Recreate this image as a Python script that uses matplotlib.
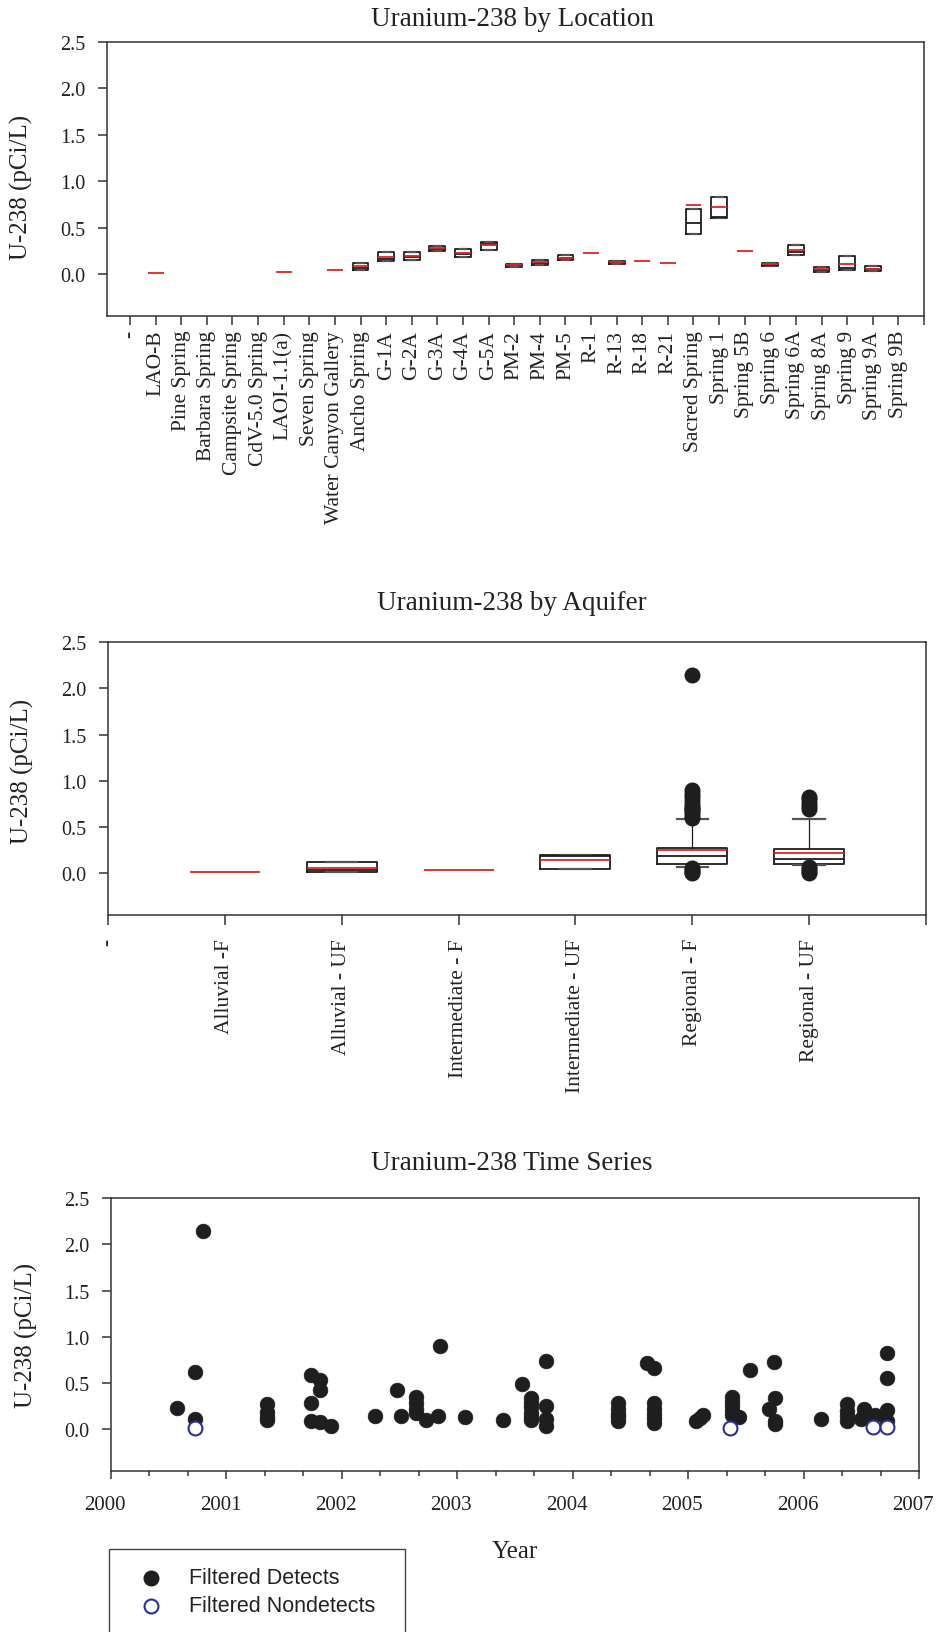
import numpy as np
import matplotlib
matplotlib.use("Agg")
import matplotlib.pyplot as plt
import matplotlib.transforms as mtransforms
from matplotlib.lines import Line2D
from matplotlib.patches import Rectangle

plt.rcParams["font.family"] = ["Liberation Serif", "DejaVu Serif"]

W, H = 938, 1633
RED = "#e3231f"
INK = "#1e1e1e"
BLUE = "#2a2f9c"
AX = "#333333"

# ---------------------------------------------------------------- data
# panel 1: U-238 by location (index into loc_names)
loc_names = ["-", "LAO-B", "Pine Spring", "Barbara Spring", "Campsite Spring",
             "CdV-5.0 Spring", "LAOI-1.1(a)", "Seven Spring", "Water Canyon Gallery",
             "Ancho Spring", "G-1A", "G-2A", "G-3A", "G-4A", "G-5A", "PM-2", "PM-4",
             "PM-5", "R-1", "R-13", "R-18", "R-21", "Sacred Spring", "Spring 1",
             "Spring 5B", "Spring 6", "Spring 6A", "Spring 8A", "Spring 9",
             "Spring 9A", "Spring 9B"]
# locations with one result: only the red mean line shows
loc_single_idx = [1, 6, 8, 18, 20, 21, 24]
loc_single_val = [0.018, 0.025, 0.046, 0.226, 0.140, 0.118, 0.248]
# locations with a box
loc_box_idx = [9, 10, 11, 12, 13, 14, 15, 16, 17, 19, 22, 23, 25, 26, 27, 28, 29]
loc_q1 = [0.040, 0.137, 0.158, 0.255, 0.190, 0.260, 0.080, 0.104, 0.150, 0.115,
          0.434, 0.610, 0.083, 0.212, 0.020, 0.040, 0.036]
loc_med = [0.070, 0.160, 0.190, 0.270, 0.220, 0.330, 0.095, 0.120, 0.170, 0.130,
           0.546, 0.620, 0.100, 0.234, 0.050, 0.065, 0.060]
loc_q3 = [0.126, 0.234, 0.234, 0.300, 0.270, 0.350, 0.108, 0.150, 0.210, 0.147,
          0.697, 0.826, 0.126, 0.310, 0.079, 0.197, 0.083]
loc_mean = [0.083, 0.180, 0.200, 0.277, 0.230, 0.316, 0.097, 0.129, 0.176, 0.133,
            0.740, 0.725, 0.108, 0.259, 0.054, 0.110, 0.061]

# panel 2: U-238 by aquifer
aq_names = ["-", "Alluvial -F", "Alluvial - UF", "Intermediate - F",
            "Intermediate - UF", "Regional - F", "Regional - UF", ""]
aq_single_idx = [1, 3]
aq_single_val = [0.020, 0.035]
aq_box_idx = [2, 4, 5, 6]
aq_q1 = [0.011, 0.050, 0.097, 0.103]
aq_med = [0.035, 0.185, 0.186, 0.150]
aq_q3 = [0.118, 0.194, 0.269, 0.258]
aq_mean = [0.055, 0.143, 0.250, 0.215]
aq_whislo = [0.011, 0.050, 0.071, 0.090]
aq_whishi = [0.118, 0.194, 0.587, 0.590]
aq_fliers = [[], [],
             [0.00, 0.02, 0.04, 0.06, 0.60, 0.63, 0.66, 0.68, 0.70, 0.72, 0.74,
              0.78, 0.82, 0.86, 0.90, 2.14],
             [0.00, 0.02, 0.05, 0.07, 0.70, 0.73, 0.76, 0.80, 0.82]]

# panel 3: time series
det_year = [2000.57, 2000.80, 2000.73, 2000.73, 2001.35, 2001.35, 2001.35, 2001.35,
            2001.73, 2001.73, 2001.73, 2001.81, 2001.81, 2001.81, 2001.91, 2002.29,
            2002.48, 2002.51, 2002.64, 2002.64, 2002.64, 2002.64, 2002.73, 2002.83,
            2002.85, 2003.07, 2003.40, 2003.56, 2003.64, 2003.64, 2003.64, 2003.64,
            2003.64, 2003.64, 2003.77, 2003.77, 2003.77, 2003.77, 2004.39, 2004.39,
            2004.39, 2004.39, 2004.39, 2004.64, 2004.70, 2004.70, 2004.70, 2004.70,
            2004.70, 2004.70, 2005.07, 2005.13, 2005.10, 2005.38, 2005.38, 2005.38,
            2005.38, 2005.38, 2005.44, 2005.54, 2005.74, 2005.75, 2005.70, 2005.75,
            2005.75, 2006.15, 2006.38, 2006.38, 2006.38, 2006.38, 2006.52, 2006.52,
            2006.50, 2006.62, 2006.72, 2006.72, 2006.72, 2006.72]
det_u = [0.23, 2.14, 0.62, 0.11, 0.27, 0.19, 0.13, 0.10,
         0.59, 0.29, 0.09, 0.53, 0.42, 0.08, 0.04, 0.14,
         0.42, 0.14, 0.35, 0.29, 0.22, 0.18, 0.10, 0.14,
         0.90, 0.13, 0.10, 0.49, 0.34, 0.29, 0.24, 0.18,
         0.13, 0.10, 0.74, 0.25, 0.11, 0.04, 0.28, 0.22,
         0.17, 0.13, 0.09, 0.72, 0.66, 0.28, 0.22, 0.17,
         0.12, 0.07, 0.09, 0.15, 0.12, 0.35, 0.30, 0.25,
         0.20, 0.15, 0.13, 0.64, 0.73, 0.34, 0.22, 0.09,
         0.06, 0.11, 0.27, 0.20, 0.14, 0.09, 0.22, 0.15,
         0.11, 0.16, 0.83, 0.56, 0.21, 0.09]
nd_year = [2000.73, 2005.36, 2006.60, 2006.72]
nd_u = [0.02, 0.01, 0.03, 0.03]

years = list(range(2000, 2008))
yticks = [0.0, 0.5, 1.0, 1.5, 2.0, 2.5]

# ---------------------------------------------------------------- figure
fig = plt.figure(figsize=(W / 100, H / 100), dpi=100)


def px_axes(left, top, right, bottom):
    return fig.add_axes([left / W, 1 - bottom / H, (right - left) / W, (bottom - top) / H])


def style(ax, lab_y):
    for sp in ax.spines.values():
        sp.set_color(AX)
        sp.set_linewidth(1.1)
    ax.set_ylim(-0.45, 2.5)
    ax.set_yticks(yticks)
    ax.set_yticklabels([f"{v:.1f}" for v in yticks])
    ax.tick_params(axis="y", direction="out", length=6.3, width=1.1, pad=9,
                   labelsize=14.5, color=AX, labelcolor="#222222")
    ax.set_ylabel("U-238 (pCi/L)", fontsize=18, color="#222222")
    ax.yaxis.set_label_coords(lab_y[0], lab_y[1])


def boxes(ax, idx, q1, med, q3, mean, lo, hi, fliers, width):
    stats = [dict(q1=a, med=m, q3=b, mean=mu, whislo=l, whishi=h, fliers=f)
             for a, m, b, mu, l, h, f in zip(q1, med, q3, mean, lo, hi, fliers)]
    ax.bxp(stats, positions=idx, widths=width, capwidths=0.27, showmeans=True,
           meanline=True, manage_ticks=False,
           boxprops=dict(color=INK, lw=1.3),
           medianprops=dict(color=INK, lw=1.3),
           whiskerprops=dict(color=INK, lw=0.9),
           capprops=dict(color="#555555", lw=1.6),
           meanprops=dict(color=RED, lw=1.3, ls="-"),
           flierprops=dict(marker="o", markerfacecolor=INK, markeredgecolor=INK,
                           markersize=10.5))


# ---- panel 1
ax1 = px_axes(107, 43, 924, 317)
style(ax1, (-0.091, 0.474))
n = len(loc_box_idx)
boxes(ax1, loc_box_idx, loc_q1, loc_med, loc_q3, loc_mean, loc_q1, loc_q3,
      [[]] * n, 0.62)
ax1.hlines(loc_single_val, np.array(loc_single_idx) - 0.31,
           np.array(loc_single_idx) + 0.31, color=RED, lw=1.3)
ax1.set_xlim(-0.9, 31)
ax1.set_xticks(range(32))
ax1.set_xticklabels(loc_names + [""], rotation=90, va="top", ha="center")
ax1.tick_params(axis="x", direction="out", length=6.5, width=1.1, pad=3.5,
                labelsize=15.5, color=AX, labelcolor="#222222")

# ---- panel 2
ax2 = px_axes(108, 643, 926, 916)
style(ax2, (-0.091, 0.53))
boxes(ax2, aq_box_idx, aq_q1, aq_med, aq_q3, aq_mean, aq_whislo, aq_whishi,
      aq_fliers, 0.6)
ax2.hlines(aq_single_val, np.array(aq_single_idx) - 0.3,
           np.array(aq_single_idx) + 0.3, color=RED, lw=1.3)
ax2.set_xlim(0, 7)
ax2.set_xticks(range(8))
ax2.set_xticklabels(aq_names, rotation=90, va="top", ha="center")
ax2.tick_params(axis="x", direction="out", length=7, width=1.1, pad=9.5,
                labelsize=15.5, color=AX, labelcolor="#222222")

# ---- panel 3
ax3 = px_axes(111, 1199, 919, 1472)
style(ax3, (-0.090, 0.5))
ax3.scatter(det_year, det_u, s=112, color=INK, edgecolor=INK, lw=0.5, zorder=3)
ax3.scatter(nd_year, nd_u, s=100, facecolor="white", edgecolor=BLUE, lw=1.5, zorder=4)
ax3.set_xlim(2000, 2007)
ax3.set_xticks(years)
ax3.set_xticklabels([str(y) for y in years])
ax3.set_xticks(np.arange(2000, 2007.01, 1 / 3), minor=True)
ax3.tick_params(axis="x", which="major", direction="out", length=6, width=1.1,
                pad=11, labelsize=15, color=AX, labelcolor="#222222")
ax3.tick_params(axis="x", which="minor", direction="out", length=3.6, width=1.1,
                color=AX)
# year labels sit a few pixels left of their ticks in the original
shift = mtransforms.ScaledTranslation(-6 / 100, 0, fig.dpi_scale_trans)
for lbl in ax3.get_xticklabels():
    lbl.set_transform(lbl.get_transform() + shift)

# ---- titles and axis caption
for ytop, txt in [(19, "Uranium-238 by Location"), (603, "Uranium-238 by Aquifer"),
                  (1164, "Uranium-238 Time Series")]:
    fig.text(512 / W, 1 - ytop / H, txt, ha="center", va="center", fontsize=19.5,
             color="#222222")
fig.text(515 / W, 1 - 1552 / H, "Year", ha="center", va="center", fontsize=18,
         color="#222222")

# ---- legend box (runs off the bottom of the page in the original)
fig.add_artist(Rectangle((109 / W, 1 - 1660 / H), (405 - 109) / W, (1660 - 1550) / H,
                         transform=fig.transFigure, facecolor="white",
                         edgecolor="#444444", lw=1.0))
fig.add_artist(Line2D([150.7 / W], [1 - 1579 / H], transform=fig.transFigure,
                      marker="o", markersize=10.5, color=INK, ls=""))
fig.add_artist(Line2D([150.7 / W], [1 - 1607 / H], transform=fig.transFigure,
                      marker="o", markersize=10, markerfacecolor="white",
                      markeredgecolor=BLUE, markeredgewidth=1.5, ls=""))
for yy, txt in [(1579, "Filtered Detects"), (1607, "Filtered Nondetects")]:
    fig.text(189 / W, 1 - yy / H, txt, ha="left", va="center", fontsize=15.5,
             family=["Liberation Sans", "DejaVu Sans"], color="#222222")

fig.savefig("out.png", dpi=100)
